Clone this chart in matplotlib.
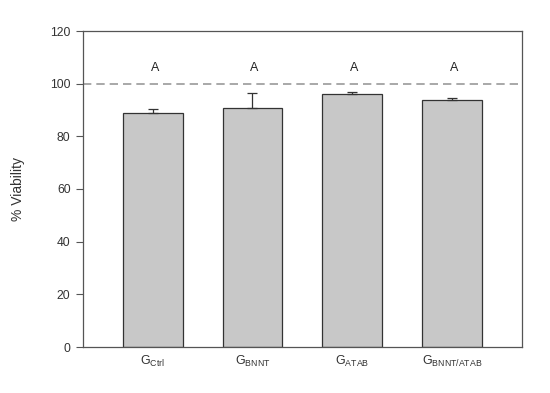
import matplotlib
matplotlib.use("Agg")
import matplotlib.pyplot as plt
import numpy as np

plt.rcParams['font.family'] = ['Liberation Sans', 'DejaVu Sans']
plt.rcParams['mathtext.fontset'] = 'custom'
plt.rcParams['mathtext.rm'] = 'Liberation Sans'
plt.rcParams['mathtext.it'] = 'Liberation Sans'

groups = ['Ctrl', 'BNNT', 'ATAB', 'BNNT/ATAB']
viability = [89.0, 90.8, 96.2, 93.7]
errors = [1.4, 5.5, 0.8, 1.0]
letters = ['A', 'A', 'A', 'A']
yticks = [0, 20, 40, 60, 80, 100, 120]

fig = plt.figure(figsize=(5.5, 3.93), dpi=100)
ax = fig.add_axes([83/550, 1 - 347/393, (521.6-83)/550, (347-31)/393])

x = np.arange(len(groups))
ax.bar(x, viability, width=0.6, color='#c8c8c8', edgecolor='#333333', linewidth=0.9, zorder=2)
ax.errorbar(x, viability, yerr=[np.zeros(len(errors)), errors], fmt='none',
            ecolor='#333333', elinewidth=0.9, capsize=3.4, capthick=0.9, zorder=3)
ax.axhline(100, color='#999999', linestyle=(0, (5, 3)), linewidth=1.2, zorder=1)
for xi, lt in zip(x, letters):
    ax.text(xi + 0.02, 105.8, lt, ha='center', va='center', fontsize=9, color='#222222')

ax.set_xlim(-0.7, 3.7)
ax.set_ylim(0, 120)
ax.set_yticks(yticks)
ax.set_xticks(x)
ax.set_xticklabels([r'G$_{\mathrm{%s}}$' % g for g in groups], fontsize=9, color='#333333')
ax.tick_params(axis='x', length=0, pad=5)
ax.tick_params(axis='y', direction='out', length=5, width=0.8, color='#555555',
               labelsize=8.7, labelcolor='#333333', pad=4)
for s in ax.spines.values():
    s.set_color('#555555')
    s.set_linewidth(0.9)
ax.set_ylabel('% Viability', fontsize=10, color='#333333')
ax.yaxis.set_label_coords(-0.132, 0.5)

fig.savefig('out.png', dpi=100)
